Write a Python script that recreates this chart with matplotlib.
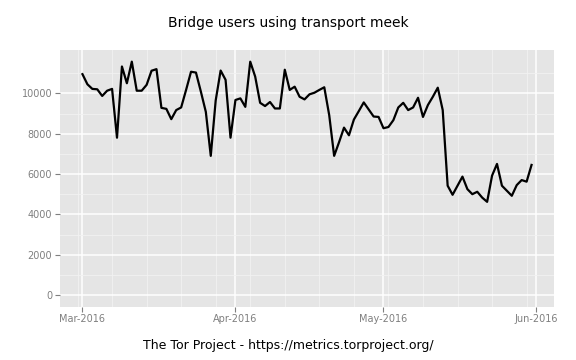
import matplotlib
matplotlib.use("Agg")
import matplotlib.pyplot as plt
import matplotlib.dates as mdates
import pandas as pd
import numpy as np

start_date = "2016-03-01"
users = [10950, 10450, 10220, 10200, 9870, 10130, 10220, 7800, 11330, 10500,
         11570, 10130, 10130, 10420, 11120, 11200, 9280, 9230, 8720, 9170,
         9300, 10170, 11070, 11030, 10080, 9080, 6900, 9650, 11130, 10670,
         7800, 9670, 9750, 9330, 11570, 10830, 9530, 9370, 9570, 9250,
         9250, 11170, 10170, 10330, 9830, 9700, 9950, 10030, 10170, 10300,
         8920, 6900, 7580, 8300, 7920, 8700, 9120, 9550, 9200, 8850,
         8830, 8270, 8330, 8670, 9300, 9530, 9170, 9300, 9780, 8830,
         9420, 9830, 10280, 9170, 5420, 4970, 5420, 5870, 5250, 5000,
         5120, 4830, 4620, 5920, 6500, 5420, 5170, 4920, 5450, 5700,
         5620, 6450]
dates = pd.date_range(start_date, periods=len(users), freq="D")

title = "Bridge users using transport meek"
caption = "The Tor Project - https://metrics.torproject.org/"
y_ticks = [0, 2000, 4000, 6000, 8000, 10000]
y_minor = [1000, 3000, 5000, 7000, 9000, 11000]

plt.rcParams['font.family'] = ['DejaVu Sans']
fig = plt.figure(figsize=(5.76, 3.6), dpi=100)
ax = fig.add_axes([60/576, 1 - 306.7/360, (554 - 60)/576, (306.7 - 50)/360])
ax.set_facecolor("#E5E5E5")
for s in ax.spines.values():
    s.set_visible(False)

ax.plot(dates, users, color="black", lw=1.6, zorder=3)

# limits with ggplot-like expansion
d0 = mdates.date2num(dates[0]); d1 = mdates.date2num(dates[-1])
span = d1 - d0
ax.set_xlim(d0 - 0.05 * span, d1 + 0.05 * span)
ymax = max(users)
ax.set_ylim(-0.05 * ymax, ymax * 1.05)

ax.xaxis.set_major_locator(mdates.MonthLocator())
ax.xaxis.set_major_formatter(mdates.DateFormatter("%b-%Y"))
ax.xaxis.set_minor_locator(mdates.WeekdayLocator(byweekday=mdates.MO))
ax.set_yticks(y_ticks)
ax.set_yticks(y_minor, minor=True)

ax.grid(which="minor", color="#F2F2F2", lw=0.6, zorder=1)
ax.grid(which="major", color="white", lw=1.1, zorder=2)
ax.set_axisbelow(True)

ax.tick_params(which="major", length=3.5, width=0.8, color="#7F7F7F",
               labelcolor="#7F7F7F", labelsize=7, pad=2)
ax.tick_params(which="minor", length=0)

fig.text(288.5/576, 1 - 23/360, title, ha="center", va="center", fontsize=10.0, color="black")
fig.text(288.5/576, 1 - 345/360, caption, ha="center", va="center", fontsize=9.0, color="black")

fig.savefig("out.png", dpi=100)
